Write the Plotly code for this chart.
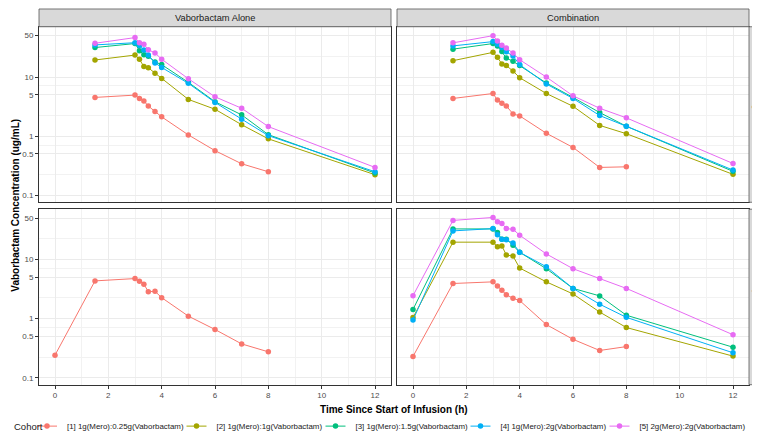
import plotly.graph_objects as go

# ---------------- data ----------------
time_sd = [1.5, 3, 3.167, 3.333, 3.5, 3.75, 4, 5, 6, 7, 8, 12]
time_md = [0, 1.5, 3, 3.167, 3.333, 3.5, 3.75, 4, 5, 6, 7, 8, 12]

cohort_names = [
    "[1] 1g(Mero):0.25g(Vaborbactam)",
    "[2] 1g(Mero):1g(Vaborbactam)",
    "[3] 1g(Mero):1.5g(Vaborbactam)",
    "[4] 1g(Mero):2g(Vaborbactam)",
    "[5] 2g(Mero):2g(Vaborbactam)",
]
cohort_colors = ["#F8766D", "#A3A500", "#00BF7D", "#00B0F6", "#E76BF3"]

# Vaborbactam alone, single dose
alone_sd_c1 = [4.52, 4.94, 4.34, 3.92, 3.23, 2.60, 2.12, 1.05, 0.569, 0.341, 0.25]
alone_sd_c2 = [19.4, 23.5, 19.9, 15.0, 14.3, 11.6, 9.4, 4.18, 2.85, 1.56, 0.90, 0.223]
alone_sd_c3 = [31.5, 36.8, 27.9, 23.8, 22.4, 18.0, 16.2, 8.12, 3.82, 2.29, 1.06, 0.238]
alone_sd_c4 = [34.9, 38.0, 34.0, 28.5, 23.5, 17.3, 14.5, 7.82, 3.72, 1.94, 1.02, 0.25]
alone_sd_c5 = [37.2, 46.4, 38.0, 35.8, 29.0, 25.5, 20.0, 9.35, 4.63, 2.96, 1.45, 0.296]

# Combination, single dose
combo_sd_c1 = [4.34, 5.26, 4.07, 3.59, 3.24, 2.38, 2.20, 1.12, 0.645, 0.296, 0.303]
combo_sd_c2 = [18.9, 26.1, 21.5, 16.6, 15.6, 12.6, 9.73, 5.26, 3.20, 1.52, 1.10, 0.226]
combo_sd_c3 = [29.6, 36.8, 33.6, 27.1, 20.9, 18.4, 15.6, 7.92, 4.52, 2.51, 1.47, 0.254]
combo_sd_c4 = [33.6, 39.7, 35.9, 31.6, 26.7, 22.6, 16.2, 7.62, 4.34, 2.23, 1.47, 0.267]
combo_sd_c5 = [37.8, 50.0, 40.7, 34.5, 30.8, 25.4, 19.6, 9.98, 4.81, 2.96, 2.04, 0.345]

# Vaborbactam alone, multiple dose
alone_md_c1 = [0.241, 4.34, 4.75, 4.29, 3.82, 2.85, 2.89, 2.26, 1.10, 0.654, 0.373, 0.274]

# Combination, multiple dose
combo_md_c1 = [0.229, 3.92, 4.18, 3.54, 3.00, 2.54, 2.20, 2.02, 0.792, 0.446, 0.289, 0.336]
combo_md_c2 = [1.04, 19.6, 19.6, 16.4, 16.9, 11.9, 11.4, 7.16, 4.18, 2.61, 1.29, 0.706, 0.232]
combo_md_c3 = [1.43, 32.8, 32.8, 28.5, 22.0, 22.0, 17.3, 13.2, 6.97, 3.24, 2.42, 1.14, 0.328]
combo_md_c4 = [0.948, 30.4, 33.2, 26.1, 22.0, 21.5, 18.9, 13.2, 7.53, 3.24, 1.75, 1.05, 0.264]
combo_md_c5 = [2.44, 45.7, 51.3, 43.4, 40.7, 33.2, 32.4, 25.7, 12.4, 6.97, 4.75, 3.24, 0.533]

col_labels = ["Vaborbactam Alone", "Combination"]
row_labels = ["Single dose", "Multiple dose"]
x_ticks = [0, 2, 4, 6, 8, 10, 12]
x_minor = [1, 3, 5, 7, 9, 11]
y_ticks = [0.1, 0.5, 1, 5, 10, 50]
y_ticktext = ["0.1", "0.5", "1", "5", "10", "50"]
y_minor = [0.2236, 0.7071, 2.236, 7.071, 22.36]

# ---------------- figure ----------------
W, H = 760, 433
FONT = "Liberation Sans, Arial, Helvetica, sans-serif"

def px_x(p):
    return p / W

def px_y(p):
    return 1 - p / H

col_dom = [[px_x(31), px_x(383)], [px_x(389), px_x(741)]]
row_dom = [[px_y(197), px_y(19)], [px_y(382), px_y(204)]]

panels = [
    (1, 0, 0, [time_sd] * 5,
     [alone_sd_c1, alone_sd_c2, alone_sd_c3, alone_sd_c4, alone_sd_c5]),
    (2, 0, 1, [time_sd] * 5,
     [combo_sd_c1, combo_sd_c2, combo_sd_c3, combo_sd_c4, combo_sd_c5]),
    (3, 1, 0, [time_md], [alone_md_c1]),
    (4, 1, 1, [time_md] * 5,
     [combo_md_c1, combo_md_c2, combo_md_c3, combo_md_c4, combo_md_c5]),
]

fig = go.Figure()
for idx, r, c, times, series in panels:
    xa = "x" if idx == 1 else f"x{idx}"
    ya = "y" if idx == 1 else f"y{idx}"
    for k, vals in enumerate(series):
        t = times[k][:len(vals)]
        fig.add_trace(go.Scatter(
            x=t, y=vals, mode="lines+markers",
            name=cohort_names[k],
            line=dict(color=cohort_colors[k], width=1),
            marker=dict(color=cohort_colors[k], size=5.5),
            xaxis=xa, yaxis=ya,
            showlegend=False,
            legendgroup=str(k),
        ))

# legend-only entries (short key line like ggplot's)
for k in range(5):
    fig.add_trace(go.Scatter(
        x=[None], y=[None], mode="lines+markers",
        name=cohort_names[k],
        line=dict(color=cohort_colors[k], width=1, dash="0px,5px,20px,20px"),
        marker=dict(color=cohort_colors[k], size=5.5),
        xaxis="x", yaxis="y", showlegend=True,
        legend="legend" if k == 0 else f"legend{k + 1}",
        legendgroup=str(k), hoverinfo="skip",
    ))

axis_common = dict(
    showline=True, mirror=True, linecolor="#333333", linewidth=1,
    zeroline=False, showgrid=True, gridcolor="#EBEBEB", gridwidth=1,
    tickcolor="#333333", ticklen=3, tickwidth=1,
    tickfont=dict(family=FONT, size=8, color="#4D4D4D"),
)

layout = dict(
    width=W, height=H,
    margin=dict(l=0, r=0, t=0, b=0),
    paper_bgcolor="white", plot_bgcolor="white",
    font=dict(family=FONT, color="#1A1A1A"),
    showlegend=True,
)

for idx, r, c, times, series in panels:
    xk = "xaxis" if idx == 1 else f"xaxis{idx}"
    yk = "yaxis" if idx == 1 else f"yaxis{idx}"
    xa = "x" if idx == 1 else f"x{idx}"
    ya = "y" if idx == 1 else f"y{idx}"
    bottom = (r == 1)
    left = (c == 0)
    layout[xk] = dict(
        axis_common, domain=col_dom[c], anchor=ya, range=[-0.6, 12.6],
        tickmode="array", tickvals=x_ticks,
        showticklabels=bottom, ticks="outside" if bottom else "",
        minor=dict(tickvals=x_minor, showgrid=True, gridcolor="#F2F2F2",
                   gridwidth=0.6, ticks=""),
    )
    layout[yk] = dict(
        axis_common, domain=row_dom[r], anchor=xa, type="log",
        range=[-1.118, 1.85],
        tickmode="array", tickvals=y_ticks, ticktext=y_ticktext,
        showticklabels=left, ticks="outside" if left else "",
        minor=dict(tickvals=y_minor, showgrid=True, gridcolor="#F2F2F2",
                   gridwidth=0.6, ticks=""),
    )

# one legend per cohort so each entry can sit where ggplot put it
legend_x_px = [19, 168.5, 307.5, 452.5, 591.5]
for k in range(5):
    key = "legend" if k == 0 else f"legend{k + 1}"
    layout[key] = dict(
        x=px_x(legend_x_px[k]), xanchor="left",
        y=px_y(424), yanchor="middle",
        orientation="h", bgcolor="rgba(0,0,0,0)", borderwidth=0,
        font=dict(family=FONT, size=7.9, color="#1A1A1A"),
        itemwidth=30, itemclick=False, itemdoubleclick=False,
    )

fig.update_layout(**layout)

shapes = []
annotations = []
for c in range(2):
    shapes.append(dict(type="rect", xref="paper", yref="paper",
                       x0=col_dom[c][0], x1=col_dom[c][1],
                       y0=px_y(19), y1=px_y(1),
                       fillcolor="#D9D9D9", line=dict(color="#555555", width=0.8)))
    annotations.append(dict(text=col_labels[c], xref="paper", yref="paper",
                            x=(col_dom[c][0] + col_dom[c][1]) / 2,
                            y=(px_y(19) + px_y(1)) / 2,
                            showarrow=False, xanchor="center", yanchor="middle",
                            font=dict(family=FONT, size=9.3, color="#1A1A1A")))
for r in range(2):
    shapes.append(dict(type="rect", xref="paper", yref="paper",
                       x0=px_x(741), x1=px_x(759),
                       y0=row_dom[r][0], y1=row_dom[r][1],
                       fillcolor="#D9D9D9", line=dict(color="#555555", width=0.8)))
    annotations.append(dict(text=row_labels[r], xref="paper", yref="paper",
                            x=px_x(749), y=(row_dom[r][0] + row_dom[r][1]) / 2,
                            showarrow=False, textangle=90, borderpad=0,
                            xanchor="center", yanchor="middle",
                            font=dict(family=FONT, size=9, color="#1A1A1A")))

annotations.append(dict(text="<b>Time Since Start of Infusion (h)</b>",
                        xref="paper", yref="paper",
                        x=(col_dom[0][0] + col_dom[1][1]) / 2, y=px_y(407),
                        showarrow=False, xanchor="center", yanchor="middle",
                        font=dict(family=FONT, size=10, color="#000000")))
annotations.append(dict(text="<b>Vaborbactam Concentration (ug/mL)</b>",
                        xref="paper", yref="paper",
                        x=px_x(8), y=px_y(200.5), textangle=-90,
                        showarrow=False, xanchor="center", yanchor="middle",
                        font=dict(family=FONT, size=10, color="#000000")))
annotations.append(dict(text="Cohort", xref="paper", yref="paper",
                        x=px_x(4), y=px_y(424),
                        showarrow=False, xanchor="left", yanchor="middle",
                        font=dict(family=FONT, size=9.5, color="#1A1A1A")))

fig.update_layout(shapes=shapes, annotations=annotations)

fig.write_html("out.html")
